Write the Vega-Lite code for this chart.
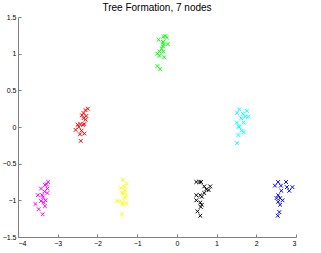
{
  "$schema": "https://vega.github.io/schema/vega-lite/v6.json",
  "width": 278,
  "height": 220,
  "autosize": {"type": "none"},
  "padding": {"left": 18, "top": 17, "right": 25, "bottom": 16},
  "background": "white",
  "title": {"text": "Tree Formation, 7 nodes", "fontSize": 10, "fontWeight": "normal", "font": "Liberation Sans", "color": "#000000", "offset": 0},
  "config": {"view": {"stroke": null}},
  "data": {"values": [
    {"g":"green","x":-0.34,"y":1.23},{"g":"green","x":-0.25,"y":1.22},{"g":"green","x":-0.46,"y":1.19},{"g":"green","x":-0.35,"y":1.16},{"g":"green","x":-0.34,"y":1.13},{"g":"green","x":-0.23,"y":1.13},{"g":"green","x":-0.35,"y":1.10},{"g":"green","x":-0.44,"y":1.03},{"g":"green","x":-0.49,"y":1.0},{"g":"green","x":-0.34,"y":1.03},{"g":"green","x":-0.44,"y":0.97},{"g":"green","x":-0.32,"y":0.95},{"g":"green","x":-0.49,"y":0.83},{"g":"green","x":-0.42,"y":0.79},{"g":"green","x":-0.38,"y":1.07},{"g":"green","x":-0.29,"y":1.24},
    {"g":"red","x":-2.24,"y":0.25},{"g":"red","x":-2.30,"y":0.23},{"g":"red","x":-2.35,"y":0.19},{"g":"red","x":-2.39,"y":0.16},{"g":"red","x":-2.28,"y":0.15},{"g":"red","x":-2.35,"y":0.12},{"g":"red","x":-2.30,"y":0.10},{"g":"red","x":-2.50,"y":0.03},{"g":"red","x":-2.43,"y":0.04},{"g":"red","x":-2.33,"y":0.04},{"g":"red","x":-2.55,"y":-0.04},{"g":"red","x":-2.47,"y":0.0},{"g":"red","x":-2.40,"y":-0.05},{"g":"red","x":-2.44,"y":-0.10},{"g":"red","x":-2.33,"y":-0.09},{"g":"red","x":-2.42,"y":-0.19},{"g":"red","x":-2.36,"y":0.03},
    {"g":"cyan","x":1.57,"y":0.24},{"g":"cyan","x":1.76,"y":0.22},{"g":"cyan","x":1.51,"y":0.19},{"g":"cyan","x":1.66,"y":0.18},{"g":"cyan","x":1.72,"y":0.14},{"g":"cyan","x":1.80,"y":0.14},{"g":"cyan","x":1.62,"y":0.12},{"g":"cyan","x":1.51,"y":0.06},{"g":"cyan","x":1.68,"y":0.06},{"g":"cyan","x":1.55,"y":0.01},{"g":"cyan","x":1.57,"y":0.0},{"g":"cyan","x":1.63,"y":-0.05},{"g":"cyan","x":1.68,"y":-0.07},{"g":"cyan","x":1.55,"y":-0.11},{"g":"cyan","x":1.51,"y":-0.22},
    {"g":"magenta","x":-3.24,"y":-0.75},{"g":"magenta","x":-3.28,"y":-0.78},{"g":"magenta","x":-3.32,"y":-0.79},{"g":"magenta","x":-3.26,"y":-0.84},{"g":"magenta","x":-3.42,"y":-0.84},{"g":"magenta","x":-3.33,"y":-0.88},{"g":"magenta","x":-3.26,"y":-0.90},{"g":"magenta","x":-3.39,"y":-0.93},{"g":"magenta","x":-3.50,"y":-0.93},{"g":"magenta","x":-3.37,"y":-0.96},{"g":"magenta","x":-3.42,"y":-1.01},{"g":"magenta","x":-3.35,"y":-1.03},{"g":"magenta","x":-3.31,"y":-1.0},{"g":"magenta","x":-3.56,"y":-1.05},{"g":"magenta","x":-3.32,"y":-1.08},{"g":"magenta","x":-3.48,"y":-1.12},{"g":"magenta","x":-3.38,"y":-1.19},
    {"g":"yellow","x":-1.36,"y":-0.72},{"g":"yellow","x":-1.26,"y":-0.77},{"g":"yellow","x":-1.41,"y":-0.83},{"g":"yellow","x":-1.32,"y":-0.81},{"g":"yellow","x":-1.30,"y":-0.86},{"g":"yellow","x":-1.38,"y":-0.90},{"g":"yellow","x":-1.32,"y":-0.90},{"g":"yellow","x":-1.27,"y":-0.93},{"g":"yellow","x":-1.31,"y":-0.97},{"g":"yellow","x":-1.51,"y":-1.01},{"g":"yellow","x":-1.44,"y":-1.01},{"g":"yellow","x":-1.38,"y":-1.03},{"g":"yellow","x":-1.27,"y":-1.04},{"g":"yellow","x":-1.36,"y":-1.05},{"g":"yellow","x":-1.38,"y":-1.19},
    {"g":"black","x":0.49,"y":-0.75},{"g":"black","x":0.57,"y":-0.75},{"g":"black","x":0.61,"y":-0.75},{"g":"black","x":0.69,"y":-0.81},{"g":"black","x":0.84,"y":-0.81},{"g":"black","x":0.74,"y":-0.85},{"g":"black","x":0.80,"y":-0.86},{"g":"black","x":0.69,"y":-0.90},{"g":"black","x":0.49,"y":-0.93},{"g":"black","x":0.59,"y":-0.93},{"g":"black","x":0.63,"y":-0.95},{"g":"black","x":0.49,"y":-1.0},{"g":"black","x":0.59,"y":-1.03},{"g":"black","x":0.63,"y":-1.06},{"g":"black","x":0.60,"y":-1.09},{"g":"black","x":0.52,"y":-1.15},{"g":"black","x":0.59,"y":-1.21},
    {"g":"blue","x":2.55,"y":-0.75},{"g":"blue","x":2.75,"y":-0.75},{"g":"blue","x":2.47,"y":-0.80},{"g":"blue","x":2.62,"y":-0.80},{"g":"blue","x":2.77,"y":-0.82},{"g":"blue","x":2.91,"y":-0.82},{"g":"blue","x":2.63,"y":-0.87},{"g":"blue","x":2.83,"y":-0.87},{"g":"blue","x":2.55,"y":-0.93},{"g":"blue","x":2.51,"y":-0.97},{"g":"blue","x":2.60,"y":-0.97},{"g":"blue","x":2.66,"y":-1.0},{"g":"blue","x":2.55,"y":-1.02},{"g":"blue","x":2.60,"y":-1.06},{"g":"blue","x":2.58,"y":-1.16},{"g":"blue","x":2.54,"y":-1.21}
  ]},
  "mark": {"type": "point", "shape": "M-1,-1L1,1M-1,1L1,-1", "filled": false, "size": 14, "strokeWidth": 1, "opacity": 1},
  "encoding": {
    "x": {"field": "x", "type": "quantitative", "scale": {"domain": [-4, 3], "nice": false, "zero": false},
      "axis": {"title": null, "values": [-4,-3,-2,-1,0,1,2,3], "grid": false, "domainColor": "#808080", "tickColor": "#808080", "tickSize": -3, "labelPadding": 5, "labelFontSize": 7, "labelFont": "Liberation Sans", "labelColor": "#000000", "format": "d"}},
    "y": {"field": "y", "type": "quantitative", "scale": {"domain": [-1.5, 1.5], "nice": false, "zero": false},
      "axis": {"title": null, "values": [-1.5,-1,-0.5,0,0.5,1,1.5], "grid": false, "domainColor": "#808080", "tickColor": "#808080", "tickSize": -3, "labelPadding": 5, "labelFontSize": 7, "labelFont": "Liberation Sans", "labelColor": "#000000", "format": "~g"}},
    "color": {"field": "g", "type": "nominal", "legend": null,
      "scale": {"domain": ["green","red","cyan","magenta","yellow","black","blue"], "range": ["#00ff00","#ff0000","#00ffff","#ff00ff","#ffff00","#000000","#0000ff"]}}
  }
}
